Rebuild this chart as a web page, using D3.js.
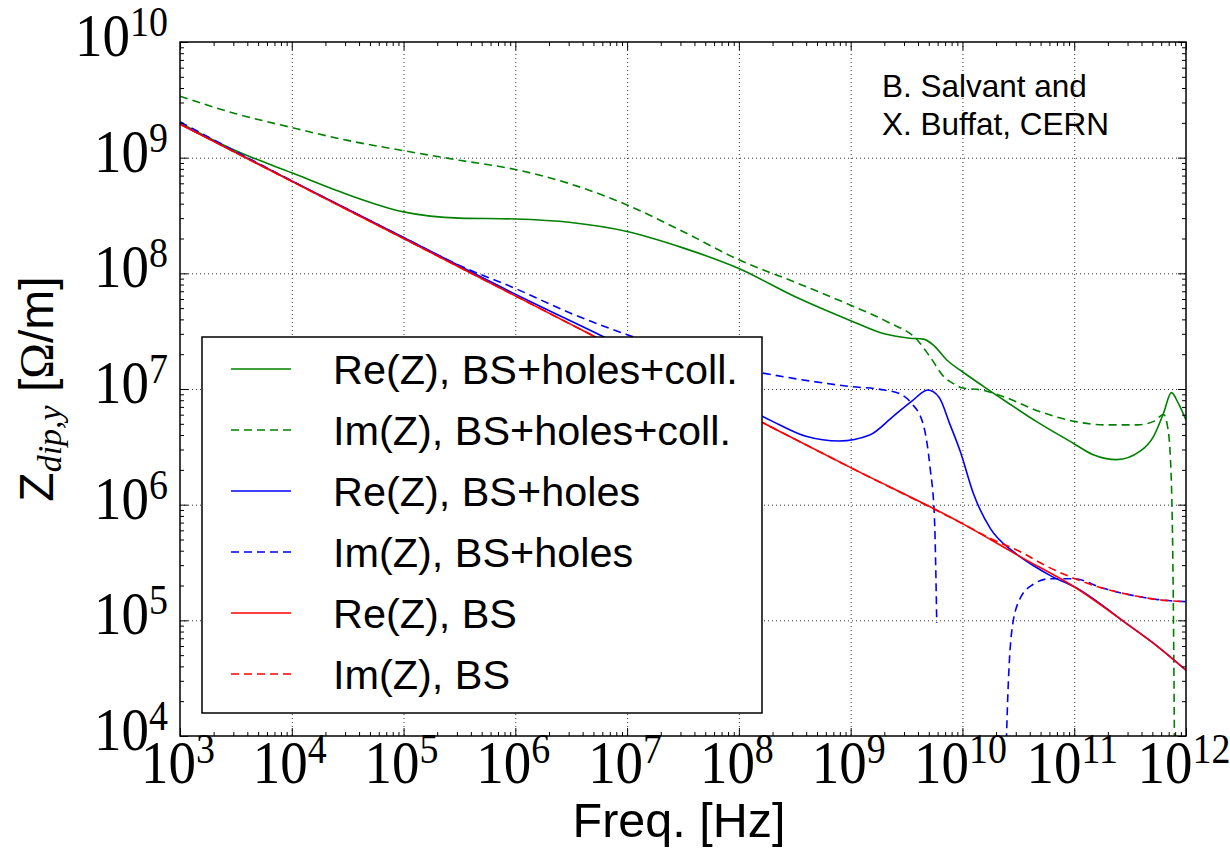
<!DOCTYPE html>
<html>
<head>
<meta charset="utf-8">
<script src="https://cdn.jsdelivr.net/npm/d3@7"></script>
<style>
  body { margin: 0; background: #fff; }
  svg { display: block; }
</style>
</head>
<body>
<svg id="chart" width="1230" height="849"></svg>
<script>
// decades shown on the axes (exponents of ten)
var xExponents = [3, 4, 5, 6, 7, 8, 9, 10, 11, 12]
var yExponents = [4, 5, 6, 7, 8, 9, 10]

// [frequency in Hz, |Z| in Ohm/m]
var reBS = [
  [1e3, 1.95e9], [1e4, 6.24e8], [1e5, 2.0e8], [1e6, 6.38e7], [1e7, 2.04e7],
  [1e8, 6.53e6], [1e9, 2.09e6], [1e10, 6.85e5], [1.78e10, 5.0e5], [3.16e10, 3.63e5],
  [1e11, 1.95e5], [3.16e11, 8.9e4], [5.62e11, 5.9e4], [1e12, 3.7e4]
]
var imBS = [
  [1e3, 1.95e9], [1e4, 6.24e8], [1e5, 2.0e8], [1e6, 6.38e7], [1e7, 2.04e7],
  [1e8, 6.53e6], [1e9, 2.09e6], [1e10, 6.85e5], [1.78e10, 5.1e5], [3.16e10, 4.0e5],
  [5.62e10, 2.95e5], [1e11, 2.3e5], [1.78e11, 1.9e5], [3.16e11, 1.66e5],
  [5.62e11, 1.51e5], [1e12, 1.45e5]
]
var reHoles = [
  [1e3, 1.95e9], [1e4, 6.3e8], [1e5, 2.04e8], [1e6, 6.6e7], [1e7, 2.24e7],
  [3.16e7, 1.26e7], [1e8, 7.4e6], [2e8, 5.25e6], [3.98e8, 3.9e6], [7.9e8, 3.55e6],
  [1.48e9, 4.0e6], [2.4e9, 5.8e6], [3.55e9, 7.9e6], [4.9e9, 9.8e6], [6.17e9, 8.5e6],
  [7.76e9, 4.9e6], [9.55e9, 2.9e6], [1.26e10, 1.23e6], [1.78e10, 6.2e5],
  [2.88e10, 3.9e5], [4.37e10, 2.95e5], [6.3e10, 2.4e5], [1e11, 1.95e5],
  [3.16e11, 8.9e4], [5.62e11, 5.9e4], [1e12, 3.7e4]
]
// the imaginary part changes sign, so it is drawn in two pieces
var imHolesLow = [
  [1e3, 2.04e9], [1e4, 6.3e8], [1e5, 2.04e8], [3.16e5, 1.17e8], [1e6, 7.4e7],
  [3.16e6, 4.5e7], [1e7, 2.95e7], [3.16e7, 2.0e7], [1e8, 1.51e7], [3.16e8, 1.23e7],
  [1e9, 1.05e7], [2e9, 9.8e6], [2.75e9, 9.1e6], [3.47e9, 7.6e6], [4.47e9, 4.9e6],
  [5.13e9, 2.1e6], [5.62e9, 7.6e5], [5.89e9, 9.5e4]
]
var imHolesHigh = [
  [2.4e10, 3.2e3], [2.57e10, 2.8e4], [2.75e10, 7.8e4], [3.24e10, 1.51e5],
  [4.27e10, 2.04e5], [6.03e10, 2.29e5], [1e11, 2.29e5], [1.78e11, 1.9e5],
  [3.16e11, 1.66e5], [5.62e11, 1.51e5], [1e12, 1.45e5]
]
var reColl = [
  [1e3, 2.0e9], [3.16e3, 1.15e9], [1e4, 7.4e8], [3.16e4, 4.8e8], [1e5, 3.4e8],
  [3.16e5, 3.0e8], [1e6, 2.95e8], [3.16e6, 2.75e8], [1e7, 2.3e8], [3.16e7, 1.66e8],
  [1e8, 1.1e8], [3.16e8, 6.3e7], [1e9, 3.9e7], [2e9, 3.0e7], [3.39e9, 2.75e7],
  [4.47e9, 2.7e7], [5.5e9, 2.4e7], [7.24e9, 1.78e7], [1e10, 1.41e7], [1.55e10, 1.05e7],
  [2.45e10, 7.8e6], [4.57e10, 5.25e6], [9.8e10, 3.4e6], [1.48e11, 2.7e6],
  [2.4e11, 2.45e6], [3.89e11, 2.9e6], [5.13e11, 3.9e6], [6.3e11, 6.2e6],
  [7.4e11, 9.3e6], [8.5e11, 7.6e6], [1e12, 5.4e6]
]
var imColl = [
  [1e3, 3.4e9], [3.16e3, 2.4e9], [1e4, 1.82e9], [3.16e4, 1.41e9], [1e5, 1.15e9],
  [3.16e5, 9.5e8], [1e6, 7.9e8], [3.16e6, 5.9e8], [1e7, 3.9e8], [3.16e7, 2.3e8],
  [1e8, 1.31e8], [3.16e8, 8.4e7], [1e9, 5.3e7], [2.14e9, 3.8e7], [3.98e9, 2.63e7],
  [5.13e9, 1.9e7], [6.9e9, 1.26e7], [8.5e9, 1.1e7], [1e10, 1.02e7], [1.48e10, 9.8e6],
  [2.4e10, 8.5e6], [4.68e10, 6.5e6], [1e11, 5.25e6], [1.86e11, 4.9e6],
  [3.72e11, 4.9e6], [5.13e11, 5.25e6], [6.3e11, 6.0e6], [6.9e11, 4.5e6],
  [7.4e11, 1.55e6], [7.67e11, 2.1e5], [7.94e11, 3.2e3]
]

var legendLabels = [
  'Re(Z), BS+holes+coll.', 'Im(Z), BS+holes+coll.',
  'Re(Z), BS+holes', 'Im(Z), BS+holes',
  'Re(Z), BS', 'Im(Z), BS'
]

var series = [
  { data: [reColl], color: '#008000', dashed: false },
  { data: [imColl], color: '#008000', dashed: true },
  { data: [reHoles], color: '#0000ff', dashed: false },
  { data: [imHolesLow, imHolesHigh], color: '#0000ff', dashed: true },
  { data: [reBS], color: '#ff0000', dashed: false },
  { data: [imBS], color: '#ff0000', dashed: true }
]

var plotLeft = 180
var plotRight = 1186
var plotTop = 42
var plotBottom = 736
var dash = '8,5'

var svg = d3.select('#chart')

var x = d3.scaleLog().domain([1e3, 1e12]).range([plotLeft, plotRight])
var y = d3.scaleLog().domain([1e4, 1e10]).range([plotBottom, plotTop])

function pow10 (e) {
  return Math.pow(10, e)
}

function minorTicks (exps) {
  var out = []
  exps.slice(0, -1).forEach(function (e) {
    for (var k = 2; k < 10; k++) out.push(k * pow10(e))
  })
  return out
}

svg.append('defs').append('clipPath')
    .attr('id', 'plot-clip')
  .append('rect')
    .attr('x', plotLeft)
    .attr('y', plotTop)
    .attr('width', plotRight - plotLeft)
    .attr('height', plotBottom - plotTop)

// grid
var grid = svg.append('g')
  .attr('stroke', '#000')
  .attr('stroke-width', 1)
  .attr('stroke-dasharray', '1,3')
  .attr('opacity', 0.8)

grid.selectAll('.gx')
  .data(xExponents.slice(1, -1))
  .enter().append('line')
    .attr('x1', function (e) { return x(pow10(e)) + 0.5 })
    .attr('x2', function (e) { return x(pow10(e)) + 0.5 })
    .attr('y1', plotTop)
    .attr('y2', plotBottom)

grid.selectAll('.gy')
  .data(yExponents.slice(1, -1))
  .enter().append('line')
    .attr('y1', function (e) { return y(pow10(e)) + 0.5 })
    .attr('y2', function (e) { return y(pow10(e)) + 0.5 })
    .attr('x1', plotLeft)
    .attr('x2', plotRight)

// curves
var line = d3.line()
  .x(function (d) { return x(d[0]) })
  .y(function (d) { return y(d[1]) })
  .curve(d3.curveMonotoneX)

var curves = svg.append('g').attr('clip-path', 'url(#plot-clip)')

series.forEach(function (s) {
  s.data.forEach(function (piece) {
    curves.append('path')
      .attr('d', line(piece))
      .attr('fill', 'none')
      .attr('stroke', s.color)
      .attr('stroke-width', 1.6)
      .attr('stroke-dasharray', s.dashed ? dash : null)
  })
})

// inward ticks on all four sides
function drawAxis (axis, translate) {
  svg.append('g')
    .attr('transform', translate)
    .call(axis)
    .call(function (g) {
      g.select('.domain').remove()
      g.selectAll('text').remove()
      g.selectAll('line').attr('stroke', '#000').attr('stroke-width', 1)
    })
}

var xMajor = xExponents.map(pow10)
var yMajor = yExponents.map(pow10)

drawAxis(d3.axisBottom(x).tickValues(xMajor).tickSize(-8), 'translate(0,' + plotBottom + ')')
drawAxis(d3.axisBottom(x).tickValues(minorTicks(xExponents)).tickSize(-4), 'translate(0,' + plotBottom + ')')
drawAxis(d3.axisTop(x).tickValues(xMajor).tickSize(-8), 'translate(0,' + plotTop + ')')
drawAxis(d3.axisTop(x).tickValues(minorTicks(xExponents)).tickSize(-4), 'translate(0,' + plotTop + ')')
drawAxis(d3.axisLeft(y).tickValues(yMajor).tickSize(-8), 'translate(' + plotLeft + ',0)')
drawAxis(d3.axisLeft(y).tickValues(minorTicks(yExponents)).tickSize(-4), 'translate(' + plotLeft + ',0)')
drawAxis(d3.axisRight(y).tickValues(yMajor).tickSize(-8), 'translate(' + plotRight + ',0)')
drawAxis(d3.axisRight(y).tickValues(minorTicks(yExponents)).tickSize(-4), 'translate(' + plotRight + ',0)')

svg.append('rect')
  .attr('x', plotLeft)
  .attr('y', plotTop)
  .attr('width', plotRight - plotLeft)
  .attr('height', plotBottom - plotTop)
  .attr('fill', 'none')
  .attr('stroke', '#000')
  .attr('stroke-width', 1.5)

// tick labels, 10 with a raised exponent (glyphs a little taller than Times)
var serif = '"Liberation Serif", "Times New Roman", serif'
var sans = '"Liberation Sans", Arial, sans-serif'

function powerLabel (sel) {
  sel.append('tspan')
    .attr('font-size', 55)
    .text('10')
  sel.append('tspan')
    .attr('font-size', 38)
    .attr('dy', -18)
    .text(function (e) { return e })
}

svg.append('g').selectAll('text')
  .data(xExponents)
  .enter().append('text')
    .attr('transform', function (e) {
      return 'translate(' + (x(pow10(e)) - 2) + ',783) scale(1,1.12)'
    })
    .attr('text-anchor', 'middle')
    .attr('font-family', serif)
    .attr('fill', '#000')
    .call(powerLabel)

svg.append('g').selectAll('text')
  .data(yExponents)
  .enter().append('text')
    .attr('transform', function (e) {
      return 'translate(168,' + (y(pow10(e)) + 14) + ') scale(1,1.12)'
    })
    .attr('text-anchor', 'end')
    .attr('font-family', serif)
    .attr('fill', '#000')
    .call(powerLabel)

// axis titles
svg.append('text')
  .attr('x', (plotLeft + plotRight) / 2 - 4)
  .attr('y', 837)
  .attr('text-anchor', 'middle')
  .attr('font-family', sans)
  .attr('font-size', 48.5)
  .text('Freq. [Hz]')

var ylab = svg.append('text')
  .attr('transform', 'translate(53,' + ((plotTop + plotBottom) / 2) + ') rotate(-90)')
  .attr('text-anchor', 'middle')
  .attr('font-family', sans)
  .attr('font-size', 48)

ylab.append('tspan').text('Z')
ylab.append('tspan')
  .attr('font-family', serif)
  .attr('font-style', 'italic')
  .attr('font-size', 34)
  .attr('dy', 8)
  .text('dip,y')
ylab.append('tspan')
  .attr('dy', -8)
  .text('\u00a0[')
ylab.append('tspan')
  .attr('font-family', serif)
  .text('\u03a9')
ylab.append('tspan').text('/m]')

// credit
svg.append('g').selectAll('text')
  .data(['B. Salvant and', 'X. Buffat, CERN'])
  .enter().append('text')
    .attr('x', 882)
    .attr('y', function (d, i) { return 97 + i * 38 })
    .attr('font-family', sans)
    .attr('font-size', 31.5)
    .text(function (d) { return d })

// legend
var legend = svg.append('g')

legend.append('rect')
  .attr('x', 202)
  .attr('y', 337)
  .attr('width', 560)
  .attr('height', 376)
  .attr('fill', '#fff')
  .attr('stroke', '#000')
  .attr('stroke-width', 1.5)

var rows = legend.selectAll('.row')
  .data(series)
  .enter().append('g')
    .attr('transform', function (d, i) { return 'translate(0,' + (369 + i * 61) + ')' })

rows.append('line')
  .attr('x1', 231)
  .attr('x2', 291)
  .attr('stroke', function (d) { return d.color })
  .attr('stroke-width', 1.6)
  .attr('stroke-dasharray', function (d) { return d.dashed ? dash : null })

rows.append('text')
  .attr('x', 333)
  .attr('y', 14.5)
  .attr('font-family', sans)
  .attr('font-size', 41.4)
  .text(function (d, i) { return legendLabels[i] })
</script>
</body>
</html>
